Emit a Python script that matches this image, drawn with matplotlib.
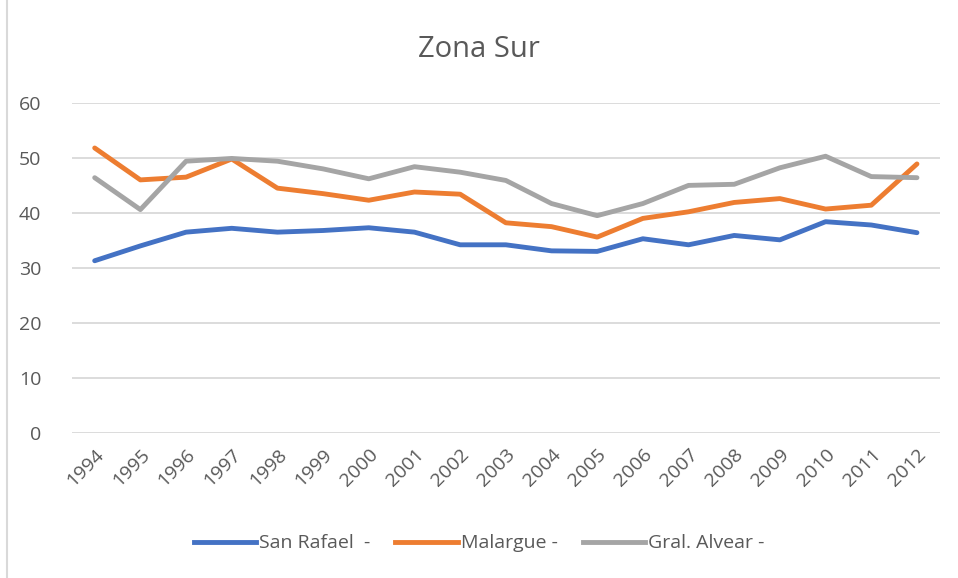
import matplotlib.pyplot as plt
from matplotlib.lines import Line2D

years = [str(y) for y in range(1994, 2013)]
san_rafael = [31.3, 34.0, 36.5, 37.2, 36.5, 36.8, 37.3, 36.5, 34.2, 34.2,
              33.1, 33.0, 35.3, 34.2, 35.9, 35.1, 38.4, 37.8, 36.4]
malargue = [51.8, 46.0, 46.5, 49.8, 44.5, 43.5, 42.3, 43.8, 43.4, 38.2,
            37.5, 35.6, 39.0, 40.2, 41.9, 42.6, 40.7, 41.4, 48.9]
gral_alvear = [46.4, 40.6, 49.4, 49.9, 49.4, 48.0, 46.2, 48.4, 47.4, 45.9,
               41.7, 39.5, 41.7, 45.0, 45.2, 48.2, 50.3, 46.6, 46.4]

series = [("San Rafael  -", san_rafael, "#4472C4"),
          ("Malargue -", malargue, "#ED7D31"),
          ("Gral. Alvear -", gral_alvear, "#A5A5A5")]

plt.rcParams['font.family'] = ['Open Sans', 'DejaVu Sans']
text_color = "#595959"

fig = plt.figure(figsize=(9.58, 5.78), dpi=100)
ax = fig.add_axes([0.075, 0.251, 0.906, 0.571])

x = list(range(len(years)))
for name, vals, color in series:
    ax.plot(x, vals, color=color, linewidth=3.5, label=name,
            solid_capstyle="round", solid_joinstyle="round")

ax.set_xlim(-0.5, len(years) - 0.5)
ax.set_ylim(0, 60)
ax.set_yticks(range(0, 61, 10))
ax.set_xticks(x)
ax.set_xticklabels(years, rotation=45, ha="right", rotation_mode="anchor")
ax.tick_params(axis="both", length=0, labelsize=14, colors=text_color)
ax.tick_params(axis="y", pad=22)
ax.tick_params(axis="x", pad=9)
ax.grid(axis="y", color="#D9D9D9", linewidth=1.3)
ax.set_axisbelow(True)
for s in ax.spines.values():
    s.set_visible(False)

fig.text(0.5, 0.915, "Zona Sur", ha="center", va="center",
         fontsize=21, color=text_color)

handles = [Line2D([0], [0], color=c, linewidth=3.5) for _, _, c in series]
fig.legend(handles, [n for n, _, _ in series], loc="center",
           bbox_to_anchor=(0.5, 0.06), ncol=3, frameon=False,
           fontsize=14, labelcolor=text_color, handlelength=3.2,
           handletextpad=0.15, columnspacing=1.3)

# left border of the chart box
fig.add_artist(Line2D([0.0075, 0.0075], [0, 1], color="#D9D9D9",
                      linewidth=1.5, transform=fig.transFigure))

fig.savefig("out.png", dpi=100, facecolor="white")
